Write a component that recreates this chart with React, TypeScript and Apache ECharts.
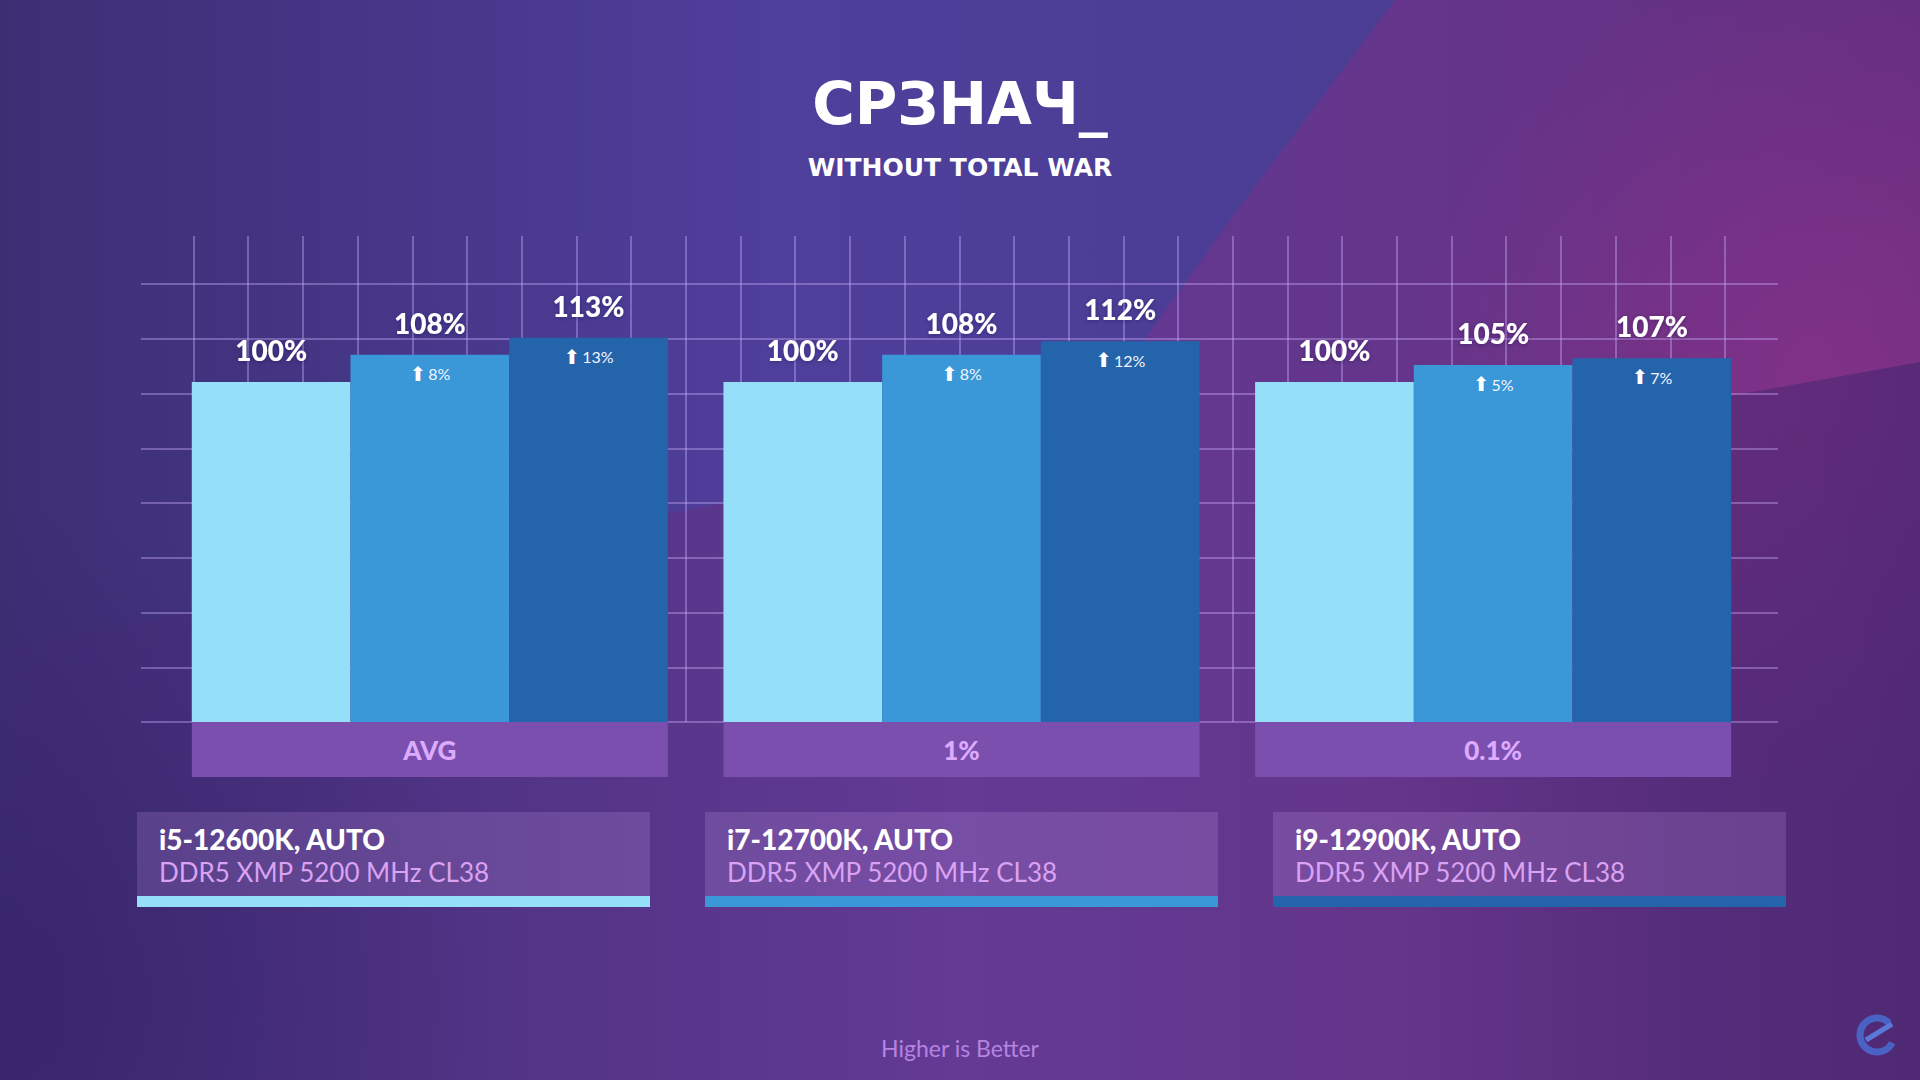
import React, { useEffect, useRef } from 'react';
import * as echarts from 'echarts';

const categories = ['AVG', '1%', '0.1%'];
const seriesNames = ['i5-12600K, AUTO', 'i7-12700K, AUTO', 'i9-12900K, AUTO'];
const memoryLabel = 'DDR5 XMP 5200 MHz CL38';
const i5Values = [100, 100, 100];
const i7Values = [108, 108, 105];
const i9Values = [113, 112, 107];
const i7Gains = [8, 8, 5];
const i9Gains = [13, 12, 7];
const colors = ['#96dff8', '#3a97d8', '#2464ab'];
const titleText = 'СРЗНАЧ_';
const subtitleText = 'WITHOUT TOTAL WAR';
const footerText = 'Higher is Better';

const FONT = 'Lato, "Noto Sans", sans-serif';
const HEAVY = '"DejaVu Sans", Lato, sans-serif';
const BAR_W = 158.7;

export default function App() {
  const ref = useRef<HTMLDivElement>(null);

  useEffect(() => {
    const chart = echarts.init(ref.current!, null, { renderer: 'svg' });
    const valueSets = [i5Values, i7Values, i9Values];
    const gainSets: (number[] | null)[] = [null, i7Gains, i9Gains];

    const barSeries = valueSets.map((vals, i) => ({
      type: 'bar',
      name: seriesNames[i],
      xAxisIndex: 0,
      yAxisIndex: 0,
      data: vals,
      barWidth: BAR_W,
      barGap: '0%',
      z: 3,
      itemStyle: { color: colors[i] },
      label: {
        show: true,
        position: 'top',
        distance: 18,
        formatter: '{c}%',
        color: '#ffffff',
        fontFamily: FONT,
        fontSize: 28,
        fontWeight: 900,
        textShadowColor: 'rgba(30,10,60,0.35)',
        textShadowBlur: 4,
        textShadowOffsetY: 1,
      },
    }));

    const overlaySeries = valueSets.map((vals, i) => {
      const gains = gainSets[i];
      return {
        type: 'bar',
        xAxisIndex: 1,
        yAxisIndex: 0,
        data: vals,
        barWidth: BAR_W,
        barGap: '0%',
        silent: true,
        z: 4,
        itemStyle: { color: 'rgba(0,0,0,0)' },
        label: {
          show: gains !== null,
          position: 'insideTop',
          distance: 9,
          formatter: (p: any) => (gains ? `{a|⬆}{p|${gains[p.dataIndex]}%}` : ''),
          rich: {
            a: { fontFamily: '"DejaVu Sans", sans-serif', fontSize: 20, color: '#ffffff', padding: [0, 2, 0, 0] },
            p: { fontFamily: FONT, fontSize: 16, color: '#f2f6ff' },
          },
        },
      };
    });

    const gridLine = { color: 'rgba(205,175,255,0.38)', width: 2 };

    const legendGraphics: any[] = [];
    seriesNames.forEach((name, i) => {
      const x0 = 137 + i * 568;
      legendGraphics.push({
        type: 'rect',
        z: 10,
        shape: { x: x0, y: 812, width: 513, height: 85 },
        style: { fill: 'rgba(200,160,235,0.2)' },
      });
      legendGraphics.push({
        type: 'rect',
        z: 10,
        shape: { x: x0, y: 896, width: 513, height: 11 },
        style: { fill: colors[i] },
      });
      legendGraphics.push({
        type: 'text',
        z: 11,
        x: x0 + 22,
        y: 839,
        style: {
          text: name,
          fill: '#ffffff',
          fontFamily: FONT,
          fontSize: 28,
          fontWeight: 900,
          verticalAlign: 'middle',
        },
      });
      legendGraphics.push({
        type: 'text',
        z: 11,
        x: x0 + 22,
        y: 872,
        style: {
          text: memoryLabel,
          fill: '#d9a2f2',
          fontFamily: FONT,
          fontSize: 26,
          fontWeight: 400,
          verticalAlign: 'middle',
        },
      });
    });

    const option: any = {
      animation: false,
      backgroundColor: {
        type: 'linear', x: 0, y: 0, x2: 1, y2: 0,
        colorStops: [
          { offset: 0, color: '#3f2d76' },
          { offset: 0.5, color: '#633a94' },
          { offset: 1, color: '#652f80' },
        ],
      },
      title: {
        text: titleText,
        subtext: subtitleText,
        left: 'center',
        top: 70,
        itemGap: 22,
        textStyle: { color: '#ffffff', fontFamily: HEAVY, fontSize: 58, fontWeight: 'bold' },
        subtextStyle: { color: '#ffffff', fontFamily: HEAVY, fontSize: 25, fontWeight: 'bold' },
      },
      grid: [
        { left: 164, right: 161, top: 280, bottom: 358 },
        { left: 141, right: 142, top: 284, bottom: 358 },
        { left: 193.5, right: 195, top: 236, bottom: 358 },
      ],
      xAxis: [
        {
          type: 'category',
          gridIndex: 0,
          data: categories,
          axisLine: { show: false },
          axisTick: { show: false },
          splitLine: { show: false },
          axisLabel: {
            interval: 0,
            margin: 0,
            width: 476,
            height: 55,
            lineHeight: 55,
            align: 'center',
            backgroundColor: '#7a4fae',
            color: '#dcaaff',
            fontFamily: FONT,
            fontSize: 26,
            fontWeight: 900,
          },
        },
        { type: 'category', gridIndex: 0, data: categories, show: false },
        { type: 'value', gridIndex: 1, min: 0, max: 1, show: false },
        {
          type: 'value',
          gridIndex: 2,
          min: 0,
          max: 28,
          interval: 1,
          axisLine: { show: false },
          axisTick: { show: false },
          axisLabel: { show: false },
          splitLine: { show: true, lineStyle: gridLine },
        },
      ],
      yAxis: [
        { type: 'value', gridIndex: 0, min: 0, max: 130, show: false },
        {
          type: 'value',
          gridIndex: 1,
          min: 0,
          max: 8,
          interval: 1,
          axisLine: { show: false },
          axisTick: { show: false },
          axisLabel: { show: false },
          splitLine: { show: true, lineStyle: gridLine },
        },
        { type: 'value', gridIndex: 2, min: 0, max: 1, show: false },
      ],
      series: [...barSeries, ...overlaySeries],
      graphic: [
        {
          type: 'polygon',
          z: -5,
          silent: true,
          shape: { points: [[0, 0], [1395, 0], [1230, 220], [1080, 430], [0, 650]] },
          style: {
            fill: {
              type: 'linear', x: 0, y: 0, x2: 1, y2: 0,
              colorStops: [
                { offset: 0, color: '#3d2e74' },
                { offset: 0.55, color: '#4f3f9c' },
                { offset: 1, color: '#4a3d93' },
              ],
            },
          },
        },
        {
          type: 'circle',
          z: -4,
          silent: true,
          shape: { cx: 1820, cy: 380, r: 420 },
          style: {
            fill: {
              type: 'radial', x: 0.5, y: 0.5, r: 0.5,
              colorStops: [
                { offset: 0, color: 'rgba(150,50,140,0.55)' },
                { offset: 1, color: 'rgba(150,50,140,0)' },
              ],
            },
          },
        },
        {
          type: 'polygon',
          z: -3,
          silent: true,
          shape: { points: [[1400, 455], [1920, 362], [1920, 1080], [1400, 1080]] },
          style: {
            fill: {
              type: 'linear', x: 0, y: 0, x2: 1, y2: 0,
              colorStops: [
                { offset: 0, color: 'rgba(62,36,108,0)' },
                { offset: 0.55, color: 'rgba(62,36,108,0.4)' },
                { offset: 1, color: 'rgba(62,36,108,0.55)' },
              ],
            },
          },
        },
        {
          type: 'circle',
          z: -4,
          silent: true,
          shape: { cx: 0, cy: 1000, r: 500 },
          style: {
            fill: {
              type: 'radial', x: 0.5, y: 0.5, r: 0.5,
              colorStops: [
                { offset: 0, color: 'rgba(50,30,100,0.5)' },
                { offset: 1, color: 'rgba(50,30,100,0)' },
              ],
            },
          },
        },
        ...legendGraphics,
        {
          type: 'text',
          z: 10,
          x: 960,
          y: 1048,
          style: {
            text: footerText,
            fill: '#b584e2',
            fontFamily: FONT,
            fontSize: 23,
            align: 'center',
            verticalAlign: 'middle',
          },
        },
        {
          type: 'arc',
          z: 10,
          shape: { cx: 1877, cy: 1035, r: 17, startAngle: Math.PI * 0.15, endAngle: Math.PI * 1.75 },
          style: { stroke: '#4a62c4', lineWidth: 7, fill: 'none' },
        },
        {
          type: 'line',
          z: 10,
          shape: { x1: 1866, y1: 1040, x2: 1892, y2: 1024 },
          style: { stroke: '#5a78d8', lineWidth: 5 },
        },
      ],
    };

    chart.setOption(option);
    return () => chart.dispose();
  }, []);

  return (
    <div
      ref={ref}
      style={{ position: 'fixed', left: 0, top: 0, width: 1920, height: 1080 }}
    />
  );
}
